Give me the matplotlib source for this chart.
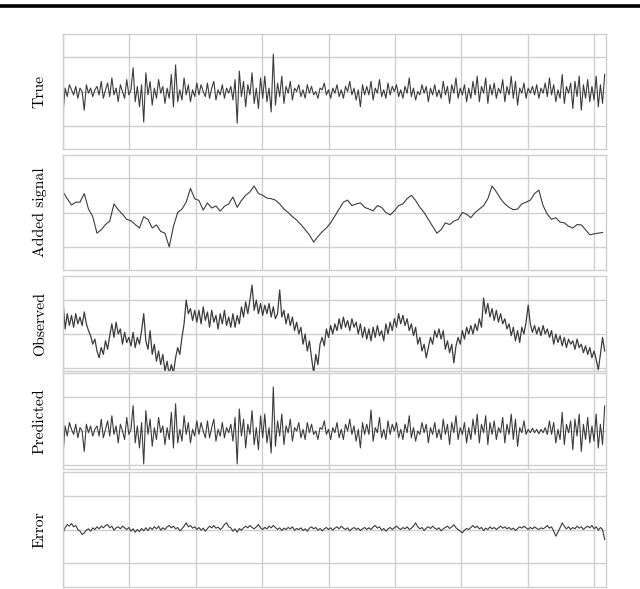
import numpy as np
import matplotlib
matplotlib.use("Agg")
import matplotlib.pyplot as plt
import matplotlib.lines as mlines

# ---- data (tick units, ticks at -1, 0, 1) ----
step_noise = 16   # samples between stored points of the noisy traces
step_added = 32   # samples between stored points of the smooth trace

true_vals = [
    -0.65, 0.1, -0.15, 0.2, 0.05, -0.1, 0.15, -0.2, 0.1, 0.0, -0.55, 0.2, -0.05, 0.1, -0.15, 0.05,
    0.15, -0.1, 0.3, -0.2, 0.05, 0.25, -0.15, 0.4, -0.1, 0.1, -0.3, 0.2, 0.0, -0.2, 0.35, -0.1,
    0.05, 0.7, -0.3, 0.15, -0.45, 0.2, -0.9, 0.55, -0.1, 0.3, -0.4, 0.1, -0.2, 0.35, -0.05, 0.15,
    -0.35, 0.1, -0.2, 0.5, -0.45, 0.78, -0.3, 0.05, -0.25, 0.4, -0.1, 0.2, -0.3, 0.05, -0.15, 0.25,
    -0.1, 0.2, 0.0, -0.15, 0.25, -0.2, 0.1, 0.3, -0.25, 0.05, -0.1, 0.2, -0.2, 0.1, -0.05, 0.15,
    -0.25, 0.35, -0.93, 0.6, -0.15, 0.3, -0.45, 0.2, -0.1, 0.55, -0.35, 0.1, -0.5, 0.4, -0.2, 0.45,
    -0.3, 0.1, -0.6, 1.1, -0.4, 0.25, -0.15, 0.45, -0.35, 0.15, -0.05, 0.3, -0.25, 0.1, 0.0, 0.2,
    -0.15, 0.05, -0.2, 0.2, -0.05, 0.15, -0.1, 0.0, -0.2, 0.1, 0.05, 0.25, -0.1, 0.05, -0.2, 0.1,
    -0.05, 0.2, -0.15, 0.05, -0.2, 0.15, 0.0, 0.3, -0.1, 0.1, -0.25, 0.05, -0.45, 0.2, -0.1, 0.15,
    -0.1, 0.3, -0.25, 0.1, -0.05, 0.35, -0.15, 0.05, -0.2, 0.25, -0.1, 0.15, 0.0, 0.2, -0.15, 0.05,
    -0.2, 0.15, -0.05, 0.4, -0.15, 0.1, -0.25, 0.0, -0.1, 0.2, -0.05, 0.15, -0.3, 0.1, -0.1, 0.2,
    -0.15, 0.05, -0.2, 0.3, -0.1, 0.15, -0.35, 0.2, -0.05, 0.4, -0.2, 0.1, -0.1, 0.2, -0.3, 0.1,
    -0.2, 0.3, -0.1, 0.45, -0.3, 0.15, -0.05, 0.4, -0.35, 0.2, -0.1, 0.25, -0.2, 0.1, -0.05, 0.35,
    -0.3, 0.15, -0.1, 0.45, -0.2, 0.3, -0.4, 0.1, -0.05, 0.25, -0.2, 0.1, -0.05, 0.15, -0.1, 0.2,
    -0.2, 0.1, -0.05, 0.25, -0.15, 0.4, -0.1, 0.2, -0.3, 0.05, -0.2, 0.5, -0.35, 0.15, -0.05, 0.25,
    -0.5, 0.3, -0.15, 0.45, -0.55, 0.2, -0.2, 0.35, -0.3, 0.15, -0.25, 0.45, -0.45, 0.2, -0.35, 0.5,
]

added_vals = [
    0.6, 0.4, 0.22, 0.3, 0.3, 0.55, 0.1, -0.12, -0.6, -0.5, -0.35, -0.25, 0.25, 0.08, -0.05, -0.2,
    -0.24, -0.35, -0.45, -0.12, -0.2, -0.45, -0.36, -0.55, -0.6, -1.0, -0.4, 0.0, 0.1, 0.3, 0.7, 0.4,
    0.35, 0.07, 0.28, 0.13, 0.19, 0.04, 0.18, 0.25, 0.45, 0.15, 0.35, 0.5, 0.6, 0.77, 0.55, 0.5,
    0.42, 0.4, 0.36, 0.25, 0.1, 0.0, -0.12, -0.22, -0.35, -0.5, -0.65, -0.86, -0.7, -0.56, -0.45, -0.3,
    -0.1, 0.1, 0.3, 0.36, 0.2, 0.25, 0.28, 0.15, 0.1, 0.05, 0.2, 0.15, 0.0, -0.07, 0.05, 0.2,
    0.25, 0.4, 0.5, 0.35, 0.15, 0.0, -0.2, -0.4, -0.6, -0.5, -0.3, -0.35, -0.25, -0.2, 0.0, -0.05,
    -0.15, 0.0, 0.1, 0.2, 0.4, 0.77, 0.6, 0.4, 0.25, 0.15, 0.08, 0.1, 0.25, 0.3, 0.36, 0.55,
    0.65, 0.2, -0.05, -0.2, -0.15, -0.28, -0.3, -0.4, -0.45, -0.35, -0.36, -0.5, -0.65, -0.62, -0.6, -0.58,
]

observed_vals = [
    0.97, 0.15, 0.6, 0.25, 0.55, 0.2, 0.6, 0.3, 0.5, 0.25, 0.65, 0.3, 0.1, -0.05, -0.3, -0.15,
    -0.5, -0.7, -0.4, -0.6, -0.2, -0.45, -0.05, 0.3, -0.1, 0.35, 0.0, 0.15, -0.3, 0.05, -0.25, -0.1,
    -0.35, 0.05, -0.4, -0.1, -0.3, 0.1, 0.6, -0.2, -0.45, 0.1, -0.6, -0.3, -0.8, -0.5, -0.9, -0.6,
    -1.1, -0.8, -1.2, -0.9, -1.15, -0.7, -0.4, -0.6, -0.1, 0.3, 1.0, 0.6, 0.75, 0.4, 0.7, 0.35,
    0.7, 0.3, 0.8, 0.4, 0.65, 0.2, 0.7, 0.35, 0.55, 0.15, 0.6, 0.3, 0.7, 0.25, 0.5, 0.2,
    0.6, 0.2, 0.55, 0.3, 0.8, 0.5, 0.95, 0.6, 1.0, 1.44, 0.7, 1.0, 0.6, 0.9, 0.55, 0.85,
    0.6, 0.9, 0.5, 0.8, 0.45, 0.6, 1.3, 0.5, 0.7, 0.3, 0.6, 0.25, 0.5, 0.1, 0.35, 0.0,
    0.2, -0.3, 0.0, -0.5, -0.2, -0.7, -1.15, -0.6, -0.9, -0.3, -0.1, -0.35, 0.15, -0.1, 0.25, 0.0,
    0.3, 0.1, 0.45, 0.15, 0.5, 0.2, 0.4, 0.1, 0.45, 0.2, 0.35, 0.0, 0.3, -0.1, 0.2, -0.15,
    0.15, -0.2, 0.2, -0.1, 0.25, -0.05, 0.1, -0.2, 0.3, 0.0, 0.35, 0.1, 0.45, 0.2, 0.6, 0.3,
    0.55, 0.25, 0.45, 0.1, 0.3, -0.05, 0.2, -0.3, -0.1, -0.5, -0.3, -0.7, -0.4, -0.1, -0.3, 0.1,
    -0.1, 0.15, -0.15, 0.1, -0.45, -0.2, -0.55, -0.3, -0.85, -0.35, -0.1, -0.3, 0.1, -0.15, 0.2, 0.0,
    0.25, 0.0, 0.3, 0.1, 0.45, 0.2, 1.06, 0.6, 0.9, 0.5, 0.75, 0.4, 0.7, 0.35, 0.6, 0.3,
    0.45, 0.15, 0.3, -0.05, 0.2, -0.2, 0.1, -0.25, 0.2, 0.0, 0.35, 0.85, 0.3, 0.05, 0.25, 0.0,
    0.2, -0.05, 0.25, 0.0, 0.15, -0.1, 0.1, -0.3, 0.0, -0.25, -0.05, -0.35, -0.1, -0.4, -0.15, -0.3,
    -0.2, -0.45, -0.15, -0.4, -0.3, -0.55, -0.35, -0.6, -0.4, -0.7, -0.5, -0.75, -1.05, -0.6, -0.1, -0.5,
]

predicted_vals = [
    -0.7, 0.15, -0.15, 0.25, 0.05, -0.1, 0.2, -0.2, 0.1, 0.0, -0.6, 0.2, -0.05, 0.15, -0.15, 0.05,
    0.15, -0.15, 0.35, -0.2, 0.05, 0.3, -0.15, 0.45, -0.1, 0.15, -0.35, 0.2, 0.0, -0.25, 0.4, -0.1,
    0.05, 0.75, -0.35, 0.15, -0.5, 0.25, -0.97, 0.6, -0.1, 0.35, -0.45, 0.1, -0.25, 0.4, -0.05, 0.15,
    -0.4, 0.1, -0.25, 0.55, -0.5, 0.8, -0.35, 0.05, -0.3, 0.45, -0.1, 0.25, -0.35, 0.05, -0.15, 0.3,
    -0.1, 0.25, 0.0, -0.2, 0.3, -0.2, 0.1, 0.35, -0.3, 0.05, -0.15, 0.25, -0.2, 0.1, -0.05, 0.2,
    -0.3, 0.4, -0.97, 0.65, -0.15, 0.35, -0.5, 0.2, -0.1, 0.6, -0.4, 0.1, -0.55, 0.45, -0.2, 0.5,
    -0.35, 0.1, -0.65, 1.3, -0.45, 0.3, -0.15, 0.5, -0.4, 0.15, -0.05, 0.35, -0.3, 0.1, 0.0, 0.25,
    -0.2, 0.05, -0.25, 0.25, -0.05, 0.2, -0.1, 0.0, -0.25, 0.1, 0.05, 0.3, -0.1, 0.05, -0.25, 0.1,
    -0.05, 0.25, -0.2, 0.05, -0.25, 0.2, 0.0, 0.35, -0.1, 0.15, -0.3, 0.05, -0.5, 0.25, -0.1, 0.2,
    -0.1, 0.62, -0.3, 0.1, -0.05, 0.4, -0.2, 0.05, -0.25, 0.3, -0.1, 0.2, 0.0, 0.25, -0.2, 0.05,
    -0.25, 0.2, -0.05, 0.45, -0.2, 0.1, -0.3, 0.0, -0.1, 0.25, -0.05, 0.2, -0.35, 0.1, -0.1, 0.25,
    -0.2, 0.05, -0.25, 0.35, -0.1, 0.2, -0.4, 0.25, -0.05, 0.45, -0.25, 0.1, -0.1, 0.25, -0.35, 0.1,
    -0.25, 0.35, -0.1, 0.5, -0.35, 0.2, -0.05, 0.45, -0.4, 0.25, -0.1, 0.3, -0.25, 0.1, -0.05, 0.4,
    -0.35, 0.2, -0.1, 0.5, -0.25, 0.35, -0.45, 0.1, -0.05, 0.3, -0.1, 0.05, -0.05, 0.08, -0.05, 0.05,
    -0.08, 0.05, -0.05, 0.1, -0.1, 0.3, -0.1, 0.25, -0.35, 0.05, -0.25, 0.55, -0.4, 0.2, -0.05, 0.3,
    -0.55, 0.35, -0.15, 0.5, -0.6, 0.2, -0.25, 0.4, -0.35, 0.15, -0.3, 0.5, -0.5, 0.2, -0.4, 0.74,
]

error_vals = [
    -0.1, 0.05, 0.15, 0.1, 0.18, 0.08, 0.12, 0.0, -0.05, -0.15, -0.1, -0.02, 0.02, -0.05, 0.05, 0.0,
    0.08, 0.02, 0.1, 0.05, 0.12, 0.15, 0.05, 0.1, -0.02, 0.05, 0.08, 0.02, 0.1, 0.05, 0.0, 0.06,
    -0.05, 0.02, -0.08, 0.0, -0.06, 0.03, -0.04, 0.05, -0.03, 0.06, 0.0, 0.08, 0.02, 0.1, -0.02, 0.05,
    0.0, 0.08, 0.12, 0.05, 0.1, 0.02, 0.06, -0.04, 0.02, 0.1, 0.2, 0.08, 0.12, 0.04, 0.08, 0.0,
    0.06, -0.02, 0.04, -0.05, 0.03, 0.1, 0.05, 0.12, 0.04, 0.07, 0.0, 0.05, 0.15, 0.2, 0.08, 0.05,
    -0.05, 0.02, -0.08, 0.03, -0.02, 0.05, 0.1, 0.05, 0.12, 0.06, 0.02, 0.08, 0.15, 0.05, 0.0, 0.06,
    0.02, 0.1, 0.05, 0.12, 0.06, 0.0, 0.05, -0.03, 0.04, 0.0, 0.06, 0.02, 0.08, -0.02, 0.03, 0.0,
    0.05, -0.03, 0.02, -0.05, 0.04, 0.08, 0.02, 0.06, -0.02, 0.03, -0.04, 0.02, 0.06, 0.0, 0.05, -0.02,
    0.04, 0.08, 0.02, 0.1, 0.04, 0.0, 0.05, -0.04, 0.02, 0.06, 0.0, 0.04, -0.03, 0.02, 0.06, 0.0,
    0.05, 0.0, 0.08, 0.12, 0.04, 0.08, -0.02, 0.03, -0.05, 0.02, 0.06, 0.0, 0.05, 0.1, 0.04, 0.0,
    0.06, 0.02, 0.08, 0.0, 0.04, 0.1, 0.2, 0.08, 0.02, 0.06, -0.03, 0.04, 0.08, 0.03, 0.1, 0.04,
    0.0, 0.05, -0.04, 0.02, 0.06, 0.1, 0.03, 0.08, 0.14, 0.05, 0.0, -0.05, -0.1, -0.02, 0.03, 0.0,
    0.06, 0.12, 0.05, 0.1, 0.02, 0.06, -0.03, 0.04, 0.0, 0.08, 0.02, 0.06, 0.0, 0.05, 0.1, 0.04,
    0.08, 0.02, 0.06, 0.0, 0.04, -0.03, 0.03, 0.08, 0.04, 0.1, 0.05, 0.0, 0.06, 0.02, 0.08, 0.03,
    0.0, 0.05, 0.02, 0.06, 0.12, 0.04, 0.08, -0.05, -0.2, -0.08, 0.05, 0.2, 0.1, 0.02, 0.08, 0.0,
    0.06, 0.02, 0.1, 0.04, 0.08, 0.0, 0.06, 0.1, 0.05, 0.12, 0.02, 0.08, -0.02, 0.06, 0.0, -0.3,
]

labels = ["True", "Added signal", "Observed", "Predicted", "Error"]
series = [true_vals, added_vals, observed_vals, predicted_vals, error_vals]
steps = [step_noise, step_added, step_noise, step_noise, step_noise]
line_widths = [0.8, 0.8, 0.9, 0.8, 0.8]

# ---- layout (pixels of the 640x589 reference) ----
W, H = 640, 589
left_px, right_px = 63, 606
panels_px = [(34, 149), (155, 270), (276, 371), (373, 469), (472, 587)]
ylims = [(-1.69, 1.69), (-1.67, 1.67), (-1.09, 1.71), (-1.12, 1.71), (-1.72, 1.72)]

fig = plt.figure(figsize=(W / 100, H / 100), dpi=100)

grid_col = "#cfcfcf"
line_col = "#3c3c3c"

for lab, vals, st, lw, (top, bot), yl in zip(labels, series, steps, line_widths, panels_px, ylims):
    ax = fig.add_axes([left_px / W, 1 - bot / H, (right_px - left_px) / W, (bot - top) / H])
    x = np.arange(len(vals)) * st
    ax.plot(x, vals, color=line_col, lw=lw)
    ax.set_xlim(0, 4090)
    ax.set_ylim(*yl)
    ax.set_xticks(np.arange(0, 4001, 500))
    ax.set_yticks([-1, 0, 1])
    ax.tick_params(length=0, labelleft=False, labelbottom=False)
    ax.grid(True, color=grid_col, lw=1.0)
    ax.set_axisbelow(True)
    for sp in ax.spines.values():
        sp.set_color(grid_col)
        sp.set_linewidth(1.0)
    ax.set_ylabel(lab, family=["cmr10", "DejaVu Serif"], fontsize=11.3)
    ax.yaxis.set_label_coords(-0.03, 0.5)

# black rule from the page header above the figure
fig.add_artist(mlines.Line2D([0, 1], [1 - 5.6 / H, 1 - 5.6 / H],
                             transform=fig.transFigure, color="black", lw=2.6))

fig.savefig("out.png", dpi=100)
